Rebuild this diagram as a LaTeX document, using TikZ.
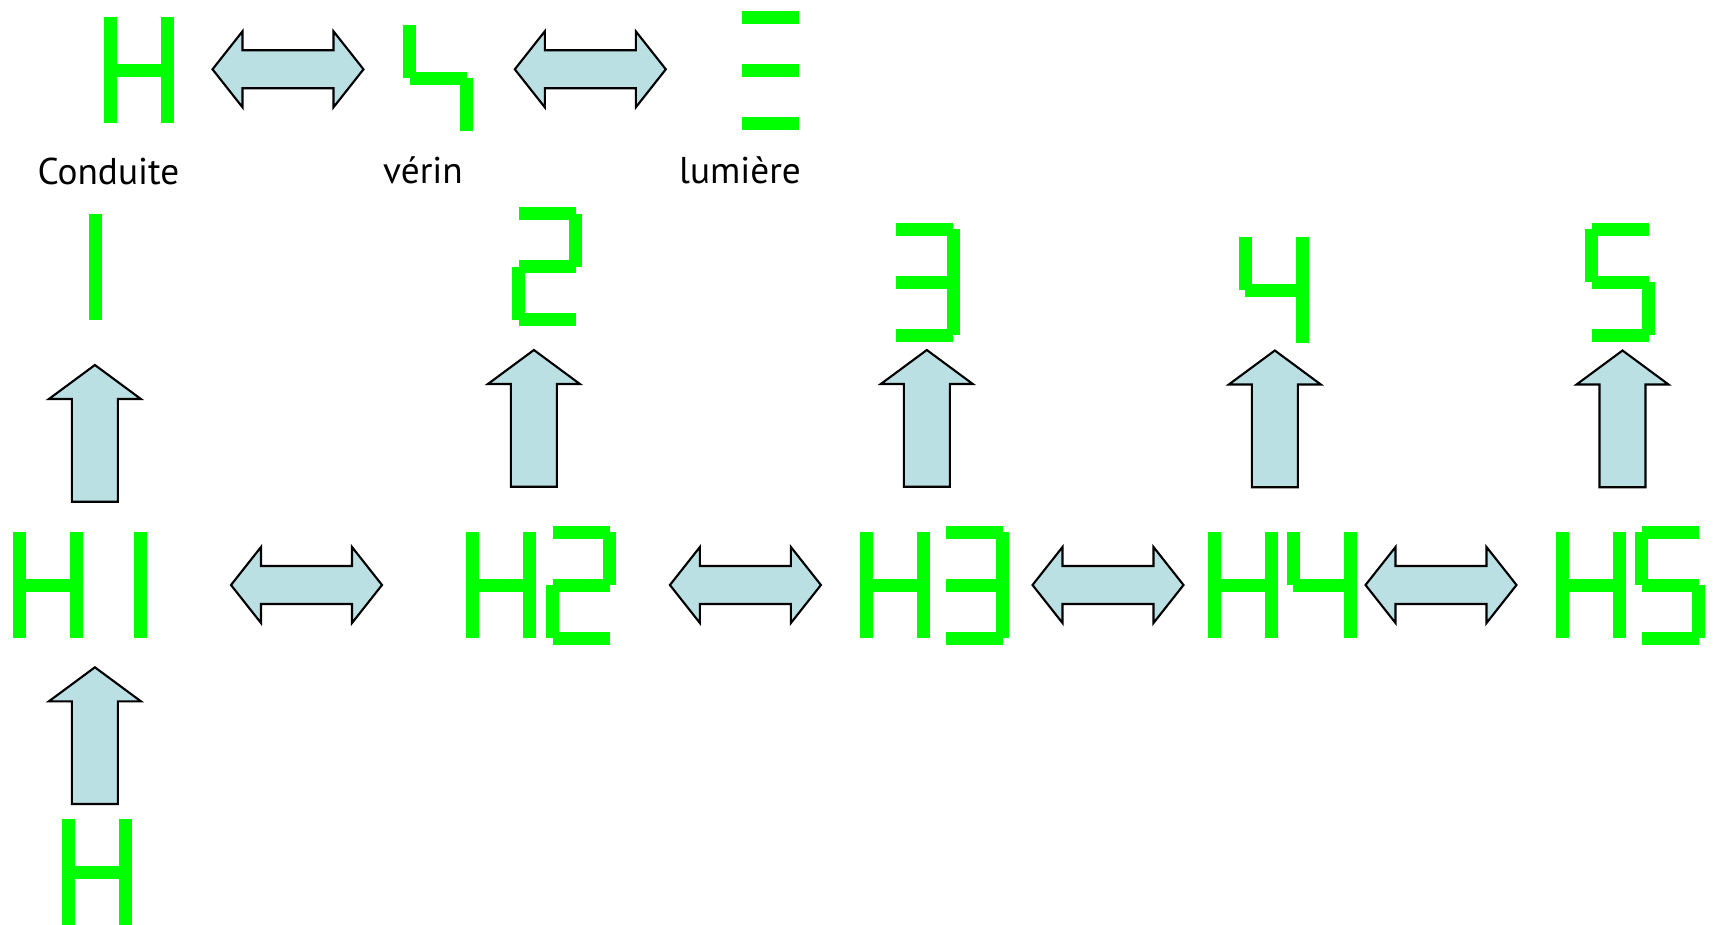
\documentclass[tikz,border=0pt]{standalone}
\usepackage{fontspec}
\setmainfont{PT Sans}
\usepackage{tikz}
\definecolor{segvert}{RGB}{0,255,0}
\definecolor{flechebleu}{RGB}{187,224,227}
\newcommand{\sgma}{\fill[seg] (6.5,0) rectangle (63.5,13);}
\newcommand{\sgmb}{\fill[seg] (57,6.5) rectangle (70,59.5);}
\newcommand{\sgmc}{\fill[seg] (57,59.5) rectangle (70,112.5);}
\newcommand{\sgmd}{\fill[seg] (6.5,106) rectangle (63.5,119);}
\newcommand{\sgme}{\fill[seg] (0,59.5) rectangle (13,112.5);}
\newcommand{\sgmf}{\fill[seg] (0,6.5) rectangle (13,59.5);}
\newcommand{\sgmg}{\fill[seg] (6.5,53) rectangle (63.5,66);}
\tikzset{
  seg/.style={fill=segvert},
  fleche/.style={draw=black, fill=flechebleu, line width=0.6pt},
  etiquette/.style={anchor=base, font=\fontsize{10.6}{12}\selectfont},
  afficheur/.pic={\foreach \t in {#1} {\csname sgm\t\endcsname}},
  doublefleche/.pic={\draw[fleche] (-75.5,0) -- (-45.5,-38) -- (-45.5,-19) -- (45.5,-19)
    -- (45.5,-38) -- (75.5,0) -- (45.5,38) -- (45.5,19) -- (-45.5,19) -- (-45.5,38) -- cycle;},
  flechehaut/.pic={\draw[fleche] (0,0) -- (46,34) -- (23,34) -- (23,136.7)
    -- (-23,136.7) -- (-23,34) -- (-46,34) -- cycle;}
}

\begin{document}
\begin{tikzpicture}[x=0.01cm, y=-0.01cm]
  \useasboundingbox (0,0) rectangle (1719,924);
  \clip (0,0) rectangle (1719,924);
  % ligne du haut
  \pic (Hc) at (104.2,10.8) {afficheur={b,c,e,f,g}};
  \pic (Vr) at (403.2,18.5) {afficheur={f,g,c}};
  \pic (Lm) at (735.1,11) {afficheur={a,g,d}};
  \pic (dc1) at (288,69.3) {doublefleche};
  \pic (dc2) at (590.3,69.3) {doublefleche};
  \node[etiquette] (conduite) at (108.4,184.3) {Conduite};
  \node[etiquette] (verin) at (423,183.3) {vérin};
  \node[etiquette] (lumiere) at (740,183) {lumière};
  % chiffres
  \pic (n1) at (31.8,207.5) {afficheur={b,c}};
  \pic (n2) at (512,207.3) {afficheur={a,b,g,e,d}};
  \pic (n3) at (889.5,222.7) {afficheur={a,b,c,d,g}};
  \pic (n4) at (1238.6,230.8) {afficheur={f,b,c,g}};
  \pic (n5) at (1585.4,222.7) {afficheur={a,f,g,c,d}};
  \pic (fh1) at (94.9,365) {flechehaut};
  \pic (fh2) at (533.9,350) {flechehaut};
  \pic (fh3) at (926.8,350) {flechehaut};
  \pic (fh4) at (1274.8,350.5) {flechehaut};
  \pic (fh5) at (1622.5,350.5) {flechehaut};
  % H1 ... H5
  \pic (H1a) at (13.3,525.5) {afficheur={b,c,e,f,g}};
  \pic (H1b) at (76.9,525.5) {afficheur={b,c}};
  \pic (H2a) at (466.4,525.5) {afficheur={b,c,e,f,g}};
  \pic (H2b) at (546.4,525.5) {afficheur={a,b,g,e,d}};
  \pic (H3a) at (859.6,525.5) {afficheur={b,c,e,f,g}};
  \pic (H3b) at (939.3,525.5) {afficheur={a,b,c,d,g}};
  \pic (H4a) at (1207.8,525.5) {afficheur={b,c,e,f,g}};
  \pic (H4b) at (1286.8,525.5) {afficheur={f,b,c,g}};
  \pic (H5a) at (1555.5,525.5) {afficheur={b,c,e,f,g}};
  \pic (H5b) at (1635,525.5) {afficheur={a,f,g,c,d}};
  \pic (dh1) at (306.5,585) {doublefleche};
  \pic (dh2) at (745.4,585) {doublefleche};
  \pic (dh3) at (1108,585) {doublefleche};
  \pic (dh4) at (1441,585) {doublefleche};
  % entree
  \pic (fh0) at (94.9,667.3) {flechehaut};
  \pic (Hb) at (62.2,812.8) {afficheur={b,c,e,f,g}};
\end{tikzpicture}
\end{document}
